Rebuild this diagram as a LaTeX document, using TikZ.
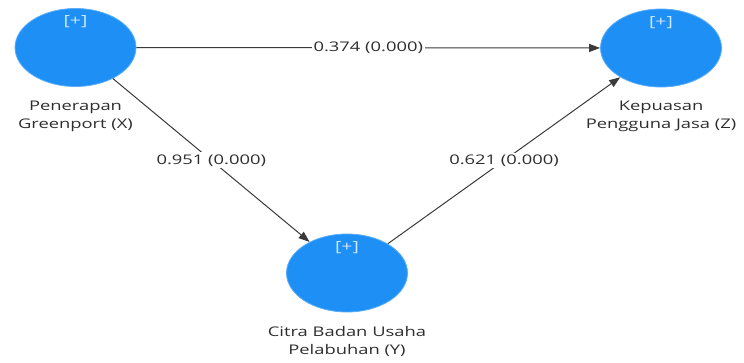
\documentclass[tikz,border=0pt]{standalone}
\usepackage{fontspec}
\setmainfont[FakeStretch=1.38]{Open Sans}
\usetikzlibrary{shapes.geometric,arrows.meta}
\definecolor{lvblue}{HTML}{1E8FF5}
\definecolor{lvedge}{HTML}{5AAEF8}
\definecolor{txtgray}{HTML}{2E2E2E}
\definecolor{linegray}{HTML}{3A3A3A}
\definecolor{plusc}{HTML}{CFE7FF}
\tikzset{
  lv/.style={ellipse, fill=lvblue, draw=lvedge, line width=0.8pt, minimum width=121pt, minimum height=78pt, inner sep=0pt},
  plus/.style={text=plusc, font=\fontsize{14}{15}\selectfont, inner sep=0pt},
  lvlabel/.style={text=txtgray, align=center, font=\fontsize{13.3}{18}\selectfont, inner sep=0pt},
  path/.style={draw=linegray, line width=1pt, -{Triangle[length=11pt,width=8pt]}},
  coef/.style={fill=white, text=txtgray, font=\fontsize{13.3}{15}\selectfont, inner sep=2pt}
}
\begin{document}
\begin{tikzpicture}[x=1pt,y=-1pt]
\useasboundingbox (0,0) rectangle (744,362);
\node[lv] (X) at (75.5,47.5) {};
\node[lv] (Z) at (661,48) {};
\node[lv] (Y) at (347,273) {};
\node[plus] (px) at (75.5,22) {[+]};
\node[plus] (pz) at (661,23) {[+]};
\node[plus] (py) at (347,248) {[+]};
\node[lvlabel] (lx) at (75.5,116) {Penerapan\\Greenport (X)};
\node[lvlabel] (lz) at (661,116) {Kepuasan\\Pengguna Jasa (Z)};
\node[lvlabel] (ly) at (347,341) {Citra Badan Usaha\\Pelabuhan (Y)};
\draw[path] (X) -- node[coef] (c1) {0.374 (0.000)} (Z);
\draw[path] (X) -- node[coef] (c2) {0.951 (0.000)} (Y);
\draw[path] (Y) -- node[coef] (c3) {0.621 (0.000)} (Z);
\end{tikzpicture}
\end{document}
